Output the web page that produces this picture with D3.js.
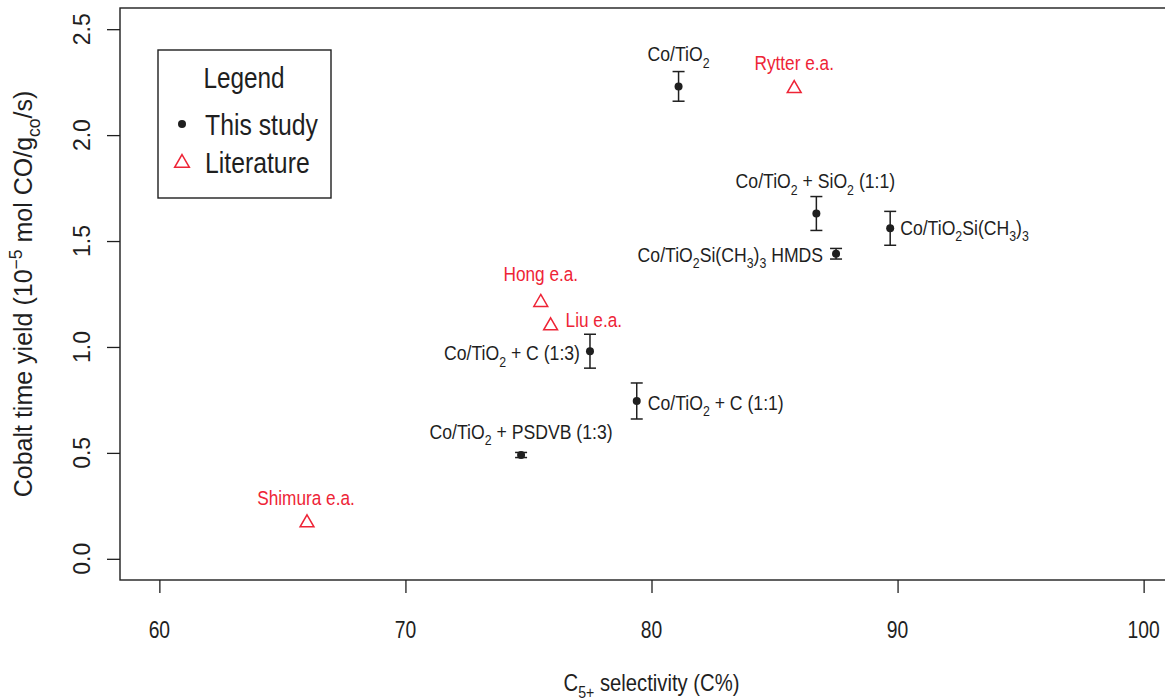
<!DOCTYPE html>
<html>
<head>
<meta charset="utf-8">
<script src="https://cdn.jsdelivr.net/npm/d3@7"></script>
<style>
  html, body { margin: 0; padding: 0; background: #fff; }
  svg { display: block; font-family: "Liberation Sans", Arial, Helvetica, sans-serif; }
</style>
</head>
<body>
<svg id="chart" width="1165" height="700"></svg>
<script>
// Catalysts measured in this study (selectivity %, yield, +/- error)
const studyLabels = [
  "Co/TiO_{2}",
  "Co/TiO_{2} + SiO_{2} (1:1)",
  "Co/TiO_{2}Si(CH_{3})_{3}",
  "Co/TiO_{2}Si(CH_{3})_{3} HMDS",
  "Co/TiO_{2} + C (1:3)",
  "Co/TiO_{2} + C (1:1)",
  "Co/TiO_{2} + PSDVB (1:3)"
];
const studySelectivity = [81.1, 86.7, 89.7, 87.5, 77.5, 79.4, 74.7];
const studyYield       = [2.23, 1.63, 1.56, 1.44, 0.98, 0.745, 0.49];
const studyError       = [0.07, 0.08, 0.08, 0.025, 0.08, 0.085, 0.012];

// Values reported in the literature
const litLabels      = ["Rytter e.a.", "Hong e.a.", "Liu e.a.", "Shimura e.a."];
const litSelectivity = [85.8, 75.5, 75.9, 66.0];
const litYield       = [2.22, 1.21, 1.10, 0.17];

const xTicks = [60, 70, 80, 90, 100];
const yTicks = [0, 0.5, 1, 1.5, 2, 2.5];
const xTickLabels = ["60", "70", "80", "90", "100"];
const yTickLabels = ["0.0", "0.5", "1.0", "1.5", "2.0", "2.5"];

const legendEntries = [
  { label: "This study", shape: "dot" },
  { label: "Literature", shape: "triangle" }
];

// Label placement next to each point (pixels from the point)
const studyLabelPlacement = [
  { anchor: "middle", dx: 0,   dy: -25 },
  { anchor: "middle", dx: -1,  dy: -25 },
  { anchor: "start",  dx: 10,  dy: 6.5 },
  { anchor: "end",    dx: -13, dy: 8 },
  { anchor: "end",    dx: -10, dy: 9 },
  { anchor: "start",  dx: 11,  dy: 9 },
  { anchor: "middle", dx: 0,   dy: -16 }
];
const litLabelPlacement = [
  { anchor: "middle", dx: 0,  dy: -19 },
  { anchor: "middle", dx: 0,  dy: -21 },
  { anchor: "start",  dx: 15, dy: 1.5 },
  { anchor: "middle", dx: -1, dy: -18 }
];

const INK = "#1f1f1f";
const RED = "#ee2436";
const NARROW = 0.84;

const svg = d3.select("#chart");
const plot = { left: 120, right: 1183, top: 8, bottom: 580 };

// R-style axis extents: data range padded by 4%
const x = d3.scaleLinear().domain([58.4, 101.6]).range([plot.left, plot.right]);
const y = d3.scaleLinear().domain([-0.1, 2.6]).range([plot.bottom, plot.top]);

// Text with _{sub} and ^{sup} markup
function richText(parent, str, o) {
  const size = o.size;
  const g = parent.append("g")
    .attr("transform", `translate(${o.x},${o.y})` + (o.rotate ? ` rotate(${o.rotate})` : "") + ` scale(${o.sx || 1},1)`);
  const t = g.append("text")
    .attr("text-anchor", o.anchor || "start")
    .attr("font-size", size)
    .attr("fill", o.color || INK);
  const parts = str.split(/(_\{[^}]*\}|\^\{[^}]*\})/).filter(s => s.length);
  let shift = 0;
  parts.forEach(p => {
    let txt = p, target = 0, fs = size;
    if (p.startsWith("_{")) { txt = p.slice(2, -1); target = 0.3 * size; fs = 0.7 * size; }
    else if (p.startsWith("^{")) { txt = p.slice(2, -1); target = -0.42 * size; fs = 0.7 * size; }
    t.append("tspan").attr("font-size", fs).attr("dy", target - shift).text(txt);
    shift = target;
  });
  return g;
}

// Frame
svg.append("rect")
  .attr("x", plot.left).attr("y", plot.top)
  .attr("width", plot.right - plot.left).attr("height", plot.bottom - plot.top)
  .attr("fill", "none").attr("stroke", INK).attr("stroke-width", 1.4);

// X axis ticks and labels
const xAxis = d3.axisBottom(x).tickValues(xTicks).tickSize(13).tickFormat("");
const gx = svg.append("g").attr("transform", `translate(0,${plot.bottom})`).call(xAxis);
gx.select(".domain").remove();
gx.selectAll(".tick line").attr("stroke", INK).attr("stroke-width", 1.3);
xTicks.forEach((v, i) => {
  richText(svg, xTickLabels[i], { x: x(v), y: 638, size: 23, anchor: "middle", sx: NARROW });
});

// Y axis ticks and labels
const yAxis = d3.axisLeft(y).tickValues(yTicks).tickSize(13).tickFormat("");
const gy = svg.append("g").attr("transform", `translate(${plot.left},0)`).call(yAxis);
gy.select(".domain").remove();
gy.selectAll(".tick line").attr("stroke", INK).attr("stroke-width", 1.3);
yTicks.forEach((v, i) => {
  richText(svg, yTickLabels[i], { x: 90, y: y(v), size: 23, anchor: "middle", rotate: -90 });
});

// Axis titles
richText(svg, "C_{5+} selectivity (C%)", {
  x: (plot.left + plot.right) / 2, y: 691, size: 23, anchor: "middle", sx: 0.88
});
richText(svg, "Cobalt time yield (10^{−5} mol CO/g_{co}/s)", {
  x: 32, y: (plot.top + plot.bottom) / 2, size: 25, anchor: "middle", rotate: -90
});

// Triangle outline centred on its centroid
function trianglePath(r) {
  const h = r * Math.sqrt(3) / 2;
  return `M0,${-r}L${h},${r / 2}L${-h},${r / 2}Z`;
}

// Error bars and points for this study
const study = studyLabels.map((label, i) => ({
  label, sel: studySelectivity[i], val: studyYield[i], err: studyError[i], place: studyLabelPlacement[i]
}));

const bars = svg.append("g").attr("stroke", INK).attr("stroke-width", 1.5);
study.forEach(d => {
  const cx = x(d.sel), y0 = y(d.val - d.err), y1 = y(d.val + d.err);
  bars.append("line").attr("x1", cx).attr("x2", cx).attr("y1", y0).attr("y2", y1);
  bars.append("line").attr("x1", cx - 6).attr("x2", cx + 6).attr("y1", y0).attr("y2", y0);
  bars.append("line").attr("x1", cx - 6).attr("x2", cx + 6).attr("y1", y1).attr("y2", y1);
});
svg.append("g").selectAll("circle").data(study).join("circle")
  .attr("cx", d => x(d.sel)).attr("cy", d => y(d.val)).attr("r", 4).attr("fill", INK);
study.forEach(d => {
  richText(svg, d.label, {
    x: x(d.sel) + d.place.dx, y: y(d.val) + d.place.dy, size: 21, anchor: d.place.anchor, sx: NARROW
  });
});

// Literature points
const lit = litLabels.map((label, i) => ({
  label, sel: litSelectivity[i], val: litYield[i], place: litLabelPlacement[i]
}));
svg.append("g").selectAll("path").data(lit).join("path")
  .attr("transform", d => `translate(${x(d.sel)},${y(d.val)})`)
  .attr("d", trianglePath(8))
  .attr("fill", "none").attr("stroke", RED).attr("stroke-width", 1.5);
lit.forEach(d => {
  richText(svg, d.label, {
    x: x(d.sel) + d.place.dx, y: y(d.val) + d.place.dy, size: 20.5, anchor: d.place.anchor, sx: NARROW, color: RED
  });
});

// Legend
const lg = svg.append("g");
lg.append("rect").attr("x", 158).attr("y", 50).attr("width", 173).attr("height", 148)
  .attr("fill", "#fff").attr("stroke", INK).attr("stroke-width", 1.4);
richText(lg, "Legend", { x: 244, y: 88, size: 29, anchor: "middle", sx: NARROW });
legendEntries.forEach((e, i) => {
  const cy = 124 + i * 38;
  if (e.shape === "dot") {
    lg.append("circle").attr("cx", 182).attr("cy", cy).attr("r", 4).attr("fill", INK);
  } else {
    lg.append("path").attr("transform", `translate(182,${cy + 1})`).attr("d", trianglePath(8.5))
      .attr("fill", "none").attr("stroke", RED).attr("stroke-width", 1.5);
  }
  richText(lg, e.label, { x: 205, y: cy + 11, size: 29.5, anchor: "start", sx: NARROW });
});
</script>
</body>
</html>
